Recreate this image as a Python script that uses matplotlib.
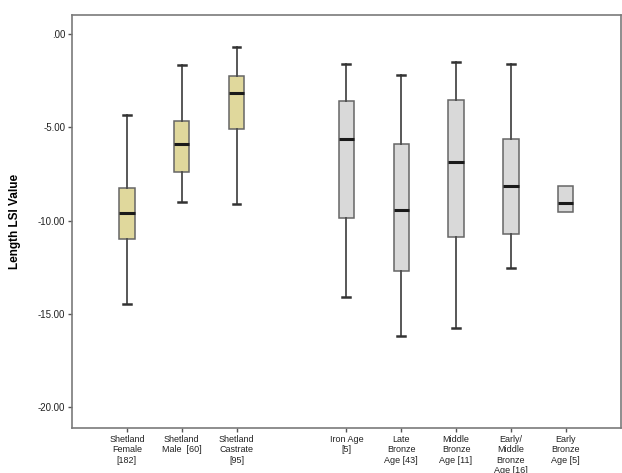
import matplotlib
matplotlib.use('Agg')
import matplotlib.pyplot as plt

plt.rcParams['font.family'] = ['Liberation Sans', 'DejaVu Sans']

# box summaries
labels = ['Shetland\nFemale\n[182]', 'Shetland\nMale  [60]', 'Shetland\nCastrate\n[95]',
          'Iron Age\n[5]', 'Late\nBronze\nAge [43]', 'Middle\nBronze\nAge [11]',
          'Early/\nMiddle\nBronze\nAge [16]', 'Early\nBronze\nAge [5]']
positions = [1, 2, 3, 5, 6, 7, 8, 9]
whislo = [-14.5, -9.0, -9.1, -14.1, -16.2, -15.75, -12.55, -9.53]
q1 = [-11.0, -7.4, -5.07, -9.86, -12.7, -10.9, -10.72, -9.53]
med = [-9.62, -5.88, -3.17, -5.65, -9.43, -6.86, -8.15, -9.07]
q3 = [-8.25, -4.68, -2.26, -3.6, -5.88, -3.55, -5.65, -8.15]
whishi = [-4.32, -1.67, -0.68, -1.61, -2.17, -1.49, -1.61, -8.15]
fills = ['#e0d89c'] * 3 + ['#d9d9d9'] * 5

fig = plt.figure(figsize=(6.22, 4.73), dpi=100)
ax = fig.add_axes([0.1158, 0.0951, 0.882, 0.873])

stats = []
for i in range(len(labels)):
    stats.append(dict(whislo=whislo[i], q1=q1[i], med=med[i], q3=q3[i],
                      whishi=whishi[i], fliers=[]))

bp = ax.bxp(stats, positions=positions, widths=0.28, patch_artist=True,
            showfliers=False,
            boxprops=dict(edgecolor='#666666', linewidth=1.1),
            medianprops=dict(color='#1a1a1a', linewidth=2.2),
            whiskerprops=dict(color='#4a4a4a', linewidth=1.3),
            capprops=dict(color='#333333', linewidth=1.8),
            capwidths=0.14)
for patch, c in zip(bp['boxes'], fills):
    patch.set_facecolor(c)
# the one-box group has no whiskers shown
for j in (14, 15):
    bp['caps'][j].set_visible(False)

ax.set_xlim(0, 10)
ax.set_ylim(-21.13, 1.02)
ax.set_xticks(positions)
ax.set_xticklabels(labels, fontsize=6.5, linespacing=1.2, color='#222222')
yt = [0, -5, -10, -15, -20]
ax.set_yticks(yt)
ax.set_yticklabels(['.00', '-5.00', '-10.00', '-15.00', '-20.00'], fontsize=7, color='#222222')
ax.tick_params(axis='both', direction='out', length=3, width=1, color='#555555', pad=2)
ax.set_ylabel('Length LSI Value', fontsize=8.5, fontweight='bold', labelpad=12)
for s in ax.spines.values():
    s.set_color('#7a7a7a')
    s.set_linewidth(1.2)

fig.savefig('out.png', dpi=100)
